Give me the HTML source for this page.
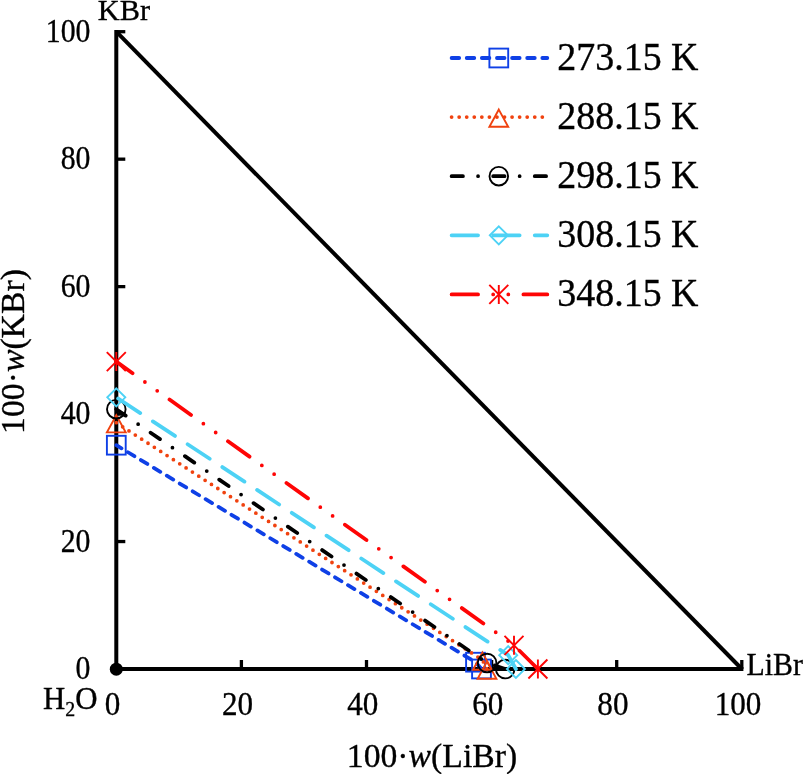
<!DOCTYPE html>
<html><head><meta charset="utf-8"><title>KBr-LiBr-H2O phase diagram</title>
<style>html,body{margin:0;padding:0;background:#fff;}body{width:804px;height:774px;overflow:hidden;}svg{display:block;}text{font-family:"Liberation Serif","Times New Roman",serif;fill:#000;stroke:#000;stroke-width:0.35px;}</style>
</head><body>
<svg width="804" height="774" viewBox="0 0 804 774">
<rect width="804" height="774" fill="#fff"/>
<g stroke="#000" stroke-width="3.3" fill="none">
<line x1="241.40" y1="660" x2="241.40" y2="669.0"/>
<line x1="116.3" y1="541.54" x2="125.3" y2="541.54"/>
<line x1="366.50" y1="660" x2="366.50" y2="669.0"/>
<line x1="116.3" y1="414.08" x2="125.3" y2="414.08"/>
<line x1="491.60" y1="660" x2="491.60" y2="669.0"/>
<line x1="116.3" y1="286.62" x2="125.3" y2="286.62"/>
<line x1="616.70" y1="660" x2="616.70" y2="669.0"/>
<line x1="116.3" y1="159.16" x2="125.3" y2="159.16"/>
<line x1="741.80" y1="660" x2="741.80" y2="669.0"/>
<line x1="116.3" y1="31.70" x2="125.3" y2="31.70"/>
</g>
<polyline points="116.3,30.099999999999998 116.3,669.0 743.4,669.0" fill="none" stroke="#000" stroke-width="4"/>
<line x1="116.3" y1="31.7" x2="741.8" y2="669.0" stroke="#000" stroke-width="4"/>
<circle cx="116.3" cy="669.2" r="6.5" fill="#000"/>
<text transform="translate(90.40,679.10) scale(0.905,1)" font-size="32.9" text-anchor="end">0</text>
<text transform="translate(112.50,714.50) scale(0.945,1)" font-size="32.9" text-anchor="middle">0</text>
<text transform="translate(90.40,551.64) scale(0.905,1)" font-size="32.9" text-anchor="end">20</text>
<text transform="translate(237.60,714.50) scale(0.945,1)" font-size="32.9" text-anchor="middle">20</text>
<text transform="translate(90.40,424.18) scale(0.905,1)" font-size="32.9" text-anchor="end">40</text>
<text transform="translate(362.70,714.50) scale(0.945,1)" font-size="32.9" text-anchor="middle">40</text>
<text transform="translate(90.40,296.72) scale(0.905,1)" font-size="32.9" text-anchor="end">60</text>
<text transform="translate(487.80,714.50) scale(0.945,1)" font-size="32.9" text-anchor="middle">60</text>
<text transform="translate(90.40,169.26) scale(0.905,1)" font-size="32.9" text-anchor="end">80</text>
<text transform="translate(612.90,714.50) scale(0.945,1)" font-size="32.9" text-anchor="middle">80</text>
<text transform="translate(90.40,41.80) scale(0.905,1)" font-size="32.9" text-anchor="end">100</text>
<text transform="translate(738.00,714.50) scale(0.945,1)" font-size="32.9" text-anchor="middle">100</text>
<text transform="translate(97.80,20.00) scale(1.0,1)" font-size="30.3" text-anchor="start">KBr</text>
<text transform="translate(746.50,674.60) scale(0.925,1)" font-size="32.3" text-anchor="start">LiBr</text>
<text transform="translate(43.10,708.80) scale(0.965,1)" font-size="31.9" text-anchor="start">H<tspan font-size="20.6" dy="7.1">2</tspan><tspan dy="-7.1">O</tspan></text>
<text transform="translate(432.00,766.70) scale(0.972,1)" font-size="34.7" text-anchor="middle">100·<tspan font-style="italic">w</tspan>(LiBr)</text>
<text transform="translate(23.90,351.50) rotate(-90) scale(0.972,1)" font-size="34.7" text-anchor="middle">100·<tspan font-style="italic">w</tspan>(KBr)</text>
<polyline points="116.30,445.20 475.50,662.20 481.50,669.00" fill="none" stroke="#0F40E6" stroke-width="3.78" stroke-linecap="round" stroke-linejoin="round" stroke-dasharray="7.56 7.56" stroke-dashoffset="1.5"/>
<rect x="106.90" y="435.80" width="18.8" height="18.8" fill="none" stroke="#0F40E6" stroke-width="1.9"/>
<rect x="466.10" y="652.80" width="18.8" height="18.8" fill="none" stroke="#0F40E6" stroke-width="1.9"/>
<rect x="472.10" y="659.60" width="18.8" height="18.8" fill="none" stroke="#0F40E6" stroke-width="1.9"/>
<polyline points="116.30,422.70 482.40,660.00 487.00,669.00" fill="none" stroke="#F0420F" stroke-width="3.78" stroke-linecap="round" stroke-linejoin="round" stroke-dasharray="0 7.56" stroke-dashoffset="0"/>
<path d="M116.30,415.20 L125.70,432.40 L106.90,432.40 Z" fill="none" stroke="#F0420F" stroke-width="1.9" stroke-linejoin="miter"/>
<path d="M482.40,652.50 L491.80,669.70 L473.00,669.70 Z" fill="none" stroke="#F0420F" stroke-width="1.9" stroke-linejoin="miter"/>
<path d="M487.00,661.50 L496.40,678.70 L477.60,678.70 Z" fill="none" stroke="#F0420F" stroke-width="1.9" stroke-linejoin="miter"/>
<polyline points="116.30,409.20 487.10,663.00 505.20,669.10" fill="none" stroke="#000000" stroke-width="3.78" stroke-linecap="round" stroke-linejoin="round" stroke-dasharray="11.34 15.12 0 15.12" stroke-dashoffset="0"/>
<circle cx="116.30" cy="409.20" r="9.3" fill="none" stroke="#000000" stroke-width="1.9"/>
<circle cx="487.10" cy="663.00" r="9.3" fill="none" stroke="#000000" stroke-width="1.9"/>
<circle cx="505.20" cy="669.10" r="9.3" fill="none" stroke="#000000" stroke-width="1.9"/>
<polyline points="116.30,397.30 508.20,655.20 515.90,669.00" fill="none" stroke="#4DD2F5" stroke-width="3.78" stroke-linecap="round" stroke-linejoin="round" stroke-dasharray="26.459999999999997 15.12" stroke-dashoffset="-2.2"/>
<path d="M116.30,388.30 L125.30,397.30 L116.30,406.30 L107.30,397.30 Z" fill="none" stroke="#4DD2F5" stroke-width="1.9"/>
<path d="M508.20,646.20 L517.20,655.20 L508.20,664.20 L499.20,655.20 Z" fill="none" stroke="#4DD2F5" stroke-width="1.9"/>
<path d="M515.90,660.00 L524.90,669.00 L515.90,678.00 L506.90,669.00 Z" fill="none" stroke="#4DD2F5" stroke-width="1.9"/>
<polyline points="116.30,361.60 514.00,645.30 537.90,669.00" fill="none" stroke="#FE0505" stroke-width="3.78" stroke-linecap="round" stroke-linejoin="round" stroke-dasharray="26.459999999999997 15.12 0 15.12 0 15.12" stroke-dashoffset="6.45"/>
<path d="M106.80,352.10 L125.80,371.10 M125.80,352.10 L106.80,371.10 M116.30,352.10 L116.30,371.10" fill="none" stroke="#FE0505" stroke-width="1.9"/>
<path d="M504.50,635.80 L523.50,654.80 M523.50,635.80 L504.50,654.80 M514.00,635.80 L514.00,654.80" fill="none" stroke="#FE0505" stroke-width="1.9"/>
<path d="M528.40,659.50 L547.40,678.50 M547.40,659.50 L528.40,678.50 M537.90,659.50 L537.90,678.50" fill="none" stroke="#FE0505" stroke-width="1.9"/>
<line x1="451.6" y1="58.00" x2="547.3" y2="58.00" stroke="#0F40E6" stroke-width="3.78" stroke-linecap="round" stroke-dasharray="7.56 7.56"/>
<rect x="489.40" y="48.60" width="18.8" height="18.8" fill="none" stroke="#0F40E6" stroke-width="1.9"/>
<text transform="translate(557.30,69.60) scale(0.968,1)" font-size="39.2" text-anchor="start">273.15 K</text>
<line x1="451.6" y1="117.10" x2="547.3" y2="117.10" stroke="#F0420F" stroke-width="3.78" stroke-linecap="round" stroke-dasharray="0 7.56"/>
<path d="M498.80,109.60 L508.20,126.80 L489.40,126.80 Z" fill="none" stroke="#F0420F" stroke-width="1.9" stroke-linejoin="miter"/>
<text transform="translate(557.30,128.70) scale(0.968,1)" font-size="39.2" text-anchor="start">288.15 K</text>
<line x1="451.6" y1="176.20" x2="547.3" y2="176.20" stroke="#000000" stroke-width="3.78" stroke-linecap="round" stroke-dasharray="11.34 15.12 0 15.12"/>
<circle cx="498.80" cy="176.20" r="9.3" fill="none" stroke="#000000" stroke-width="1.9"/>
<text transform="translate(557.30,187.80) scale(0.968,1)" font-size="39.2" text-anchor="start">298.15 K</text>
<line x1="451.6" y1="235.30" x2="547.3" y2="235.30" stroke="#4DD2F5" stroke-width="3.78" stroke-linecap="round" stroke-dasharray="26.459999999999997 15.12"/>
<path d="M498.80,226.30 L507.80,235.30 L498.80,244.30 L489.80,235.30 Z" fill="none" stroke="#4DD2F5" stroke-width="1.9"/>
<text transform="translate(557.30,246.90) scale(0.968,1)" font-size="39.2" text-anchor="start">308.15 K</text>
<line x1="451.6" y1="294.40" x2="547.3" y2="294.40" stroke="#FE0505" stroke-width="3.78" stroke-linecap="round" stroke-dasharray="26.459999999999997 15.12 0 15.12 0 15.12"/>
<path d="M489.30,284.90 L508.30,303.90 M508.30,284.90 L489.30,303.90 M498.80,284.90 L498.80,303.90" fill="none" stroke="#FE0505" stroke-width="1.9"/>
<text transform="translate(557.30,306.00) scale(0.968,1)" font-size="39.2" text-anchor="start">348.15 K</text>
</svg></body></html>
